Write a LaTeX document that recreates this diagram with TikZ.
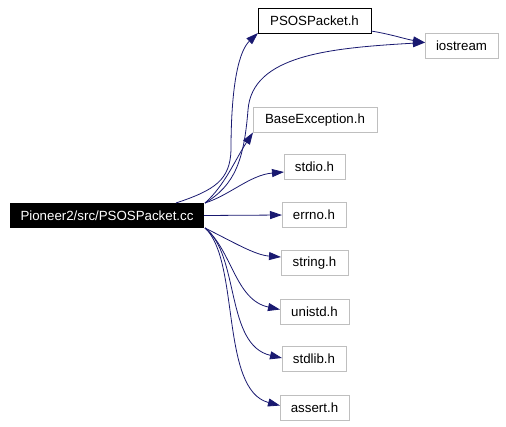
\documentclass[tikz,border=0pt]{standalone}
\usepackage{fontspec}
\setmainfont{Liberation Sans}
\usetikzlibrary{arrows.meta,calc}
\definecolor{edgeblue}{HTML}{191970}
\definecolor{boxgray}{HTML}{BFBFBF}
\begin{document}
\begin{tikzpicture}[x=1pt,y=-1pt,
  every node/.style={font=\fontsize{13.3}{15}\selectfont, inner sep=0pt, outer sep=0pt, anchor=center},
  mainbox/.style={fill=black, text=white, minimum height=25pt},
  blackbox/.style={draw=black, line width=0.8pt, fill=white, minimum height=25pt},
  graybox/.style={draw=boxgray, line width=0.8pt, fill=white, minimum height=25pt},
  dep/.style={draw=edgeblue, line width=0.8pt, -{Triangle[length=12pt,width=8pt]}}]
\path[use as bounding box] (0,0) rectangle (506,426);
\node[mainbox, minimum width=194pt] (main) at (107,215.5) {Pioneer2/src/PSOSPacket.cc};
\node[blackbox, minimum width=113pt] (psos) at (314.5,20.5) {PSOSPacket.h};
\node[graybox, minimum width=73pt] (ios) at (461.5,45.5) {iostream};
\node[graybox, minimum width=124pt] (base) at (315,120) {BaseException.h};
\node[graybox, minimum width=61pt] (stdio) at (314.5,167) {stdio.h};
\node[graybox, minimum width=64pt] (errno) at (314,215) {errno.h};
\node[graybox, minimum width=67pt] (string) at (314.5,263) {string.h};
\node[graybox, minimum width=69pt] (unistd) at (314.5,311.5) {unistd.h};
\node[graybox, minimum width=64pt] (stdlib) at (314,359) {stdlib.h};
\node[graybox, minimum width=69pt] (assert) at (314.5,407.5) {assert.h};

\coordinate (mt) at ($(main.north east)+(-28,0)$);
\coordinate (mne) at ($(main.north east)+(1,0)$);
\coordinate (mse) at ($(main.south east)+(1,0)$);

\draw[dep] (mt) .. controls (215,190) and (230,180) .. (231,150)
  .. controls (231,80) and (240,50) .. (psos.south west);
\draw[dep] ($(psos.south east)+(0,-2)$) .. controls (390,34) and (405,39) .. ($(ios.west)+(0,-3)$);
\draw[dep] (mne) .. controls (235,185) and (244,160) .. (248,110)
  .. controls (252,55) and (330,48) .. ($(ios.west)+(0,-3)$);
\draw[dep] (mne) .. controls (225,185) and (235,160) .. (base.south west);
\draw[dep] (mne) .. controls (230,195) and (250,175) .. ($(stdio.west)+(0,5)$);
\draw[dep] (main.east) -- (errno.west);
\draw[dep] (mse) .. controls (235,243) and (255,255) .. ($(string.west)+(0,-6)$);
\draw[dep] (mse) .. controls (232,250) and (235,300) .. ($(unistd.west)+(0,-2)$);
\draw[dep] (mse) .. controls (240,255) and (225,345) .. ($(stdlib.west)+(0,-1)$);
\draw[dep] (mse) .. controls (240,260) and (220,390) .. ($(assert.west)+(0,-2)$);
\end{tikzpicture}
\end{document}
